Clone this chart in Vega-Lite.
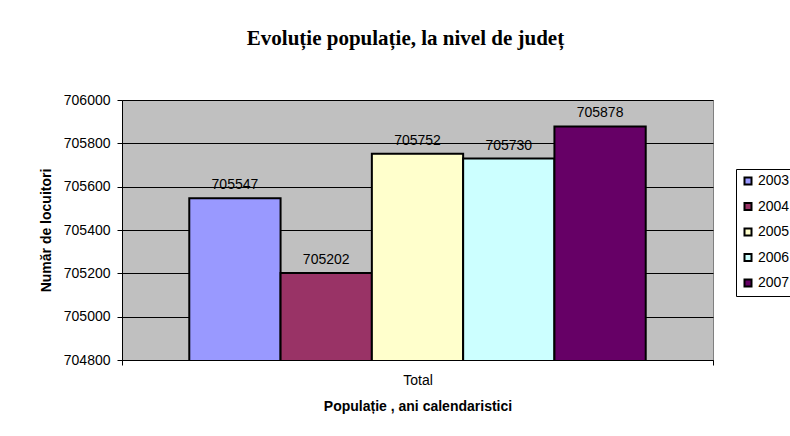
{
  "$schema": "https://vega.github.io/schema/vega-lite/v6.json",
  "width": 591,
  "height": 260,
  "autosize": {"type": "none"},
  "padding": {"left": 122, "top": 100, "right": 77, "bottom": 76},
  "background": "white",
  "title": {
    "text": "Evoluție populație, la nivel de județ",
    "font": "Liberation Serif",
    "fontSize": 21,
    "fontWeight": "bold",
    "color": "black",
    "offset": 44,
    "dx": -12
  },
  "config": {
    "font": "Liberation Sans",
    "view": {"fill": "#c0c0c0", "stroke": "#808080", "strokeWidth": 1},
    "axis": {"labelColor": "black", "titleColor": "black", "domainColor": "black", "tickColor": "black"}
  },
  "data": {
    "values": [
      {"category": "Total", "year": "2003", "value": 705547},
      {"category": "Total", "year": "2004", "value": 705202},
      {"category": "Total", "year": "2005", "value": 705752},
      {"category": "Total", "year": "2006", "value": 705730},
      {"category": "Total", "year": "2007", "value": 705878}
    ]
  },
  "encoding": {
    "x": {
      "field": "category",
      "type": "nominal",
      "scale": {"paddingInner": 0, "paddingOuter": 0},
      "axis": {
        "labelAngle": 0,
        "tickBand": "extent",
        "tickSize": 5,
        "labelFontSize": 14,
        "labelPadding": 8,
        "title": "Populație , ani calendaristici",
        "titleFontSize": 14,
        "titleFontWeight": "bold",
        "titlePadding": 12,
        "grid": false
      }
    },
    "xOffset": {
      "field": "year",
      "type": "nominal",
      "scale": {"paddingOuter": 0.737, "paddingInner": 0}
    },
    "y": {
      "field": "value",
      "type": "quantitative",
      "scale": {"domain": [704800, 706000], "zero": false, "nice": false},
      "axis": {
        "values": [704800, 705000, 705200, 705400, 705600, 705800, 706000],
        "format": "d",
        "grid": true,
        "gridColor": "black",
        "gridWidth": 1,
        "gridOpacity": 1,
        "tickSize": 5,
        "labelFontSize": 14,
        "labelPadding": 7,
        "title": "Număr de locuitori",
        "titleFontSize": 14,
        "titleFontWeight": "bold",
        "titlePadding": 10
      }
    }
  },
  "layer": [
    {
      "mark": {"type": "bar", "stroke": "black", "strokeWidth": 2, "clip": true},
      "encoding": {
        "color": {
          "field": "year",
          "type": "nominal",
          "scale": {
            "domain": ["2003", "2004", "2005", "2006", "2007"],
            "range": ["#9999ff", "#993366", "#ffffcc", "#ccffff", "#660066"]
          },
          "legend": {
            "orient": "none",
            "legendX": 614,
            "legendY": 69,
            "title": null,
            "strokeColor": "black",
            "fillColor": "white",
            "padding": 5,
            "symbolType": "square",
            "symbolSize": 49,
            "symbolStrokeColor": "black",
            "symbolStrokeWidth": 2,
            "labelFontSize": 14,
            "labelColor": "black",
            "labelOffset": 3,
            "rowPadding": 9.5
          }
        }
      }
    },
    {
      "mark": {"type": "text", "baseline": "bottom", "dy": -6, "fontSize": 14, "color": "black"},
      "encoding": {
        "text": {"field": "value", "type": "quantitative", "format": "d"}
      }
    }
  ]
}
